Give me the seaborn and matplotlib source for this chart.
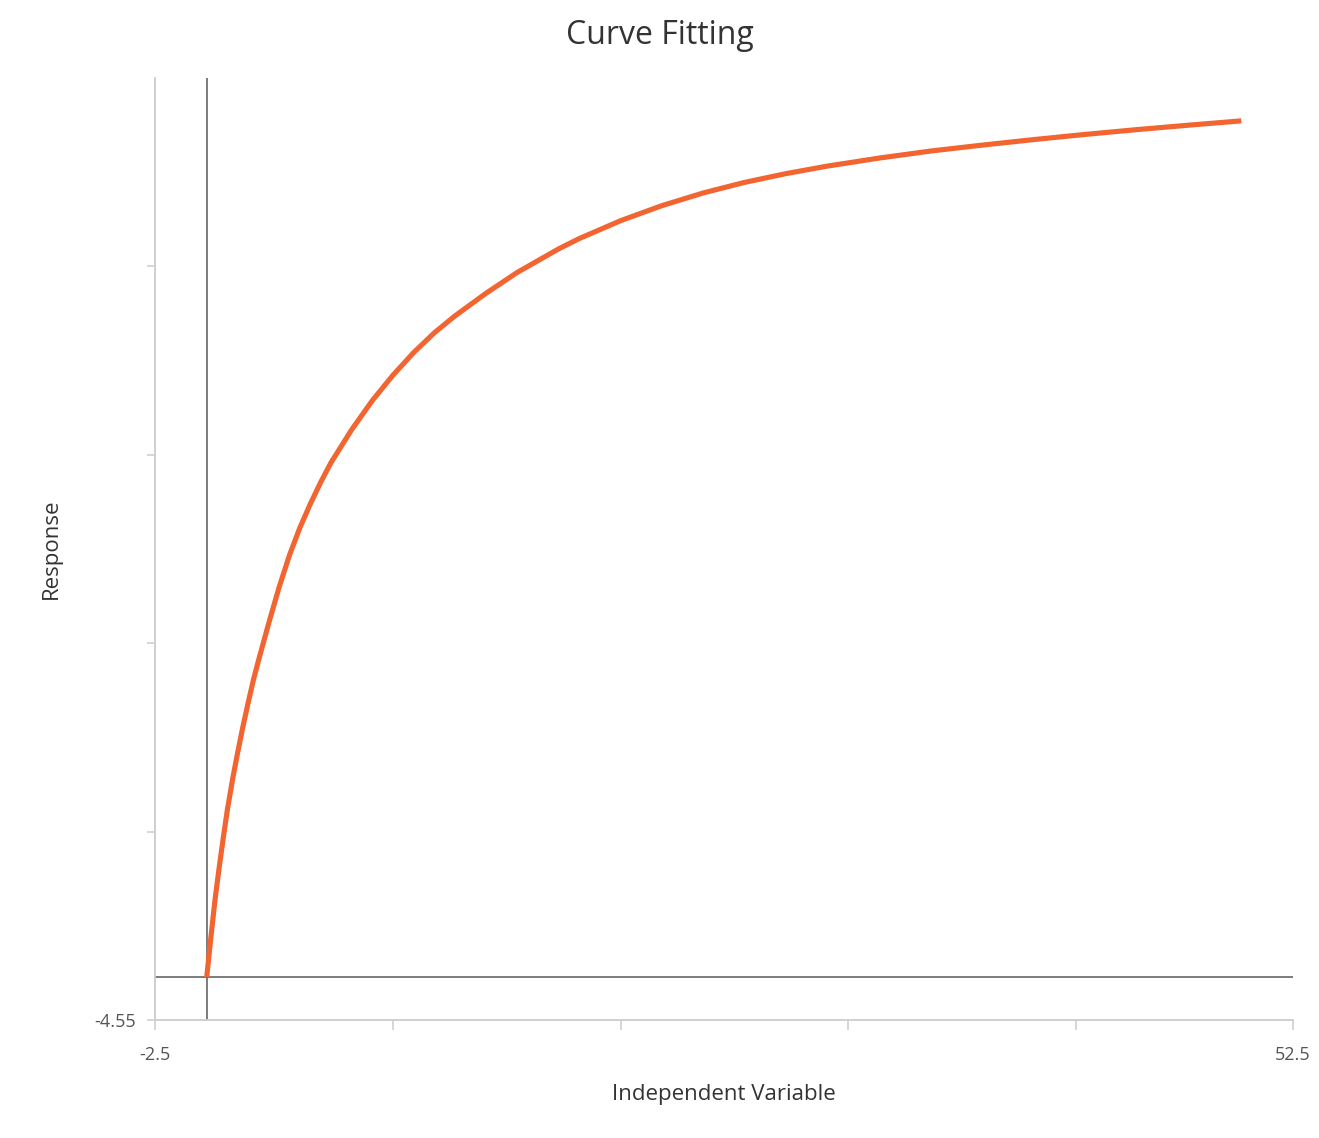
import numpy as np
import pandas as pd
import matplotlib
matplotlib.use("Agg")
import matplotlib.pyplot as plt
import seaborn as sns

# data
x_vals = [0, 0.2, 0.4, 0.6, 0.8, 1.0, 1.25, 1.5, 1.75, 2.0, 2.25, 2.5, 3.0, 3.5,
          4.0, 4.5, 5.0, 5.5, 6.0, 7.0, 8.0, 9.0, 10, 11, 12, 13.5, 15, 17, 18,
          20, 22, 24, 26, 28, 30, 32.5, 35, 37.5, 40, 42.5, 45, 47.5, 50]
y_vals = [0, 4.2, 8.2, 11.6, 14.8, 17.8, 21.0, 23.9, 26.6, 29.1, 31.5, 33.6,
          37.6, 41.4, 44.8, 47.7, 50.2, 52.5, 54.6, 58.1, 61.2, 63.9, 66.3,
          68.4, 70.2, 72.6, 74.8, 77.3, 78.4, 80.3, 81.9, 83.25, 84.37, 85.3,
          86.1, 86.95, 87.7, 88.33, 88.92, 89.47, 89.98, 90.45, 90.9]

x_ticks = [-2.5, 9, 20, 31, 42, 52.5]
x_tick_labels = ["-2.5", "", "", "", "", "52.5"]
y_ticks = [-4.55, 15.45, 35.45, 55.45, 75.45]
y_tick_labels = ["-4.55", "", "", "", ""]

df = pd.DataFrame({"x": x_vals, "y": y_vals})

sns.set_style("white")
plt.rcParams["font.family"] = ["Open Sans", "DejaVu Sans"]

fig = plt.figure(figsize=(13.19, 11.38), dpi=100)
ax = fig.add_axes([155 / 1319, 118 / 1138, 1138 / 1319, 942 / 1138])

# zero lines
ax.axvline(0, color="#666666", lw=1.2, zorder=1)
ax.axhline(0, color="#666666", lw=1.2, zorder=1)

sns.lineplot(data=df, x="x", y="y", ax=ax, color="#F26430", lw=3.7, zorder=3,
             solid_joinstyle="round", solid_capstyle="butt")

ax.set_xlim(-2.5, 52.5)
ax.set_ylim(-4.55, 95.45)
ax.set_xticks(x_ticks)
ax.set_xticklabels(x_tick_labels)
ax.set_yticks(y_ticks)
ax.set_yticklabels(y_tick_labels)

for side in ["top", "right"]:
    ax.spines[side].set_visible(False)
for side in ["left", "bottom"]:
    ax.spines[side].set_color("#cccccc")
    ax.spines[side].set_linewidth(1.3)

ax.tick_params(axis="x", bottom=True, direction="out", length=7, width=1.1,
               color="#cccccc", labelsize=13, labelcolor="#555555", pad=12)
ax.tick_params(axis="y", left=True, direction="out", length=6, width=1.1,
               color="#cccccc", labelsize=13, labelcolor="#555555", pad=8)

ax.set_xlabel("Independent Variable", fontsize=16, color="#333333", labelpad=14)
ax.set_ylabel("Response", fontsize=16, color="#333333", labelpad=23)
fig.text(0.5, 1 - 35 / 1138, "Curve Fitting", ha="center", va="center",
         fontsize=23, color="#333333")

fig.savefig("out.png", dpi=100)
